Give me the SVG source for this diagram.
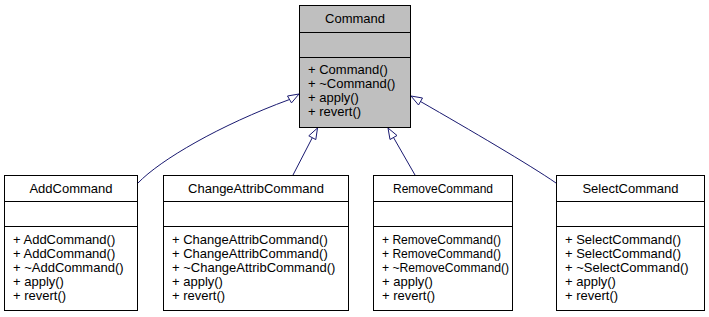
<svg xmlns="http://www.w3.org/2000/svg" width="709" height="317" viewBox="0 0 709 317">
  <style>
    .box { fill: #ffffff; stroke: #000000; stroke-width: 1; }
    .base { fill: #bfbfbf; stroke: #000000; stroke-width: 1; }
    .sep { stroke: #000000; stroke-width: 1; }
    text { font-family: "Liberation Sans", Arial, Helvetica, sans-serif; font-size: 13px; fill: #000000; }
    .title { text-anchor: middle; }
    .edge { fill: none; stroke: #191970; stroke-width: 1; }
    .head { fill: #ffffff; stroke: #191970; stroke-width: 1; }
  </style>
  <rect width="709" height="317" fill="#ffffff"/>

  <!-- inheritance connectors -->
  <g id="edges">
    <path class="edge" d="M138,183 C160,160 220,125 289.5,99.5"/>
    <polygon class="head" points="299,94 291.5,102.9 287.5,96"/>
    <path class="edge" d="M293,175 L312.3,137.7"/>
    <polygon class="head" points="317.5,128 315.8,139.6 308.8,135.8"/>
    <path class="edge" d="M415,175 L393.5,137.5"/>
    <polygon class="head" points="388,128 397,135.5 390,139.5"/>
    <path class="edge" d="M556,183 C530,165 470,130 420.5,101.5"/>
    <polygon class="head" points="411,96 422.5,98 418.5,105"/>
  </g>

  <!-- base class -->
  <g id="Command">
    <rect class="base" x="299.5" y="5.5" width="111" height="122"/>
    <line class="sep" x1="299.5" y1="32.5" x2="410.5" y2="32.5"/>
    <line class="sep" x1="299.5" y1="57.5" x2="410.5" y2="57.5"/>
    <text class="title" x="355" y="23">Command</text>
    <text x="308" y="74">+ Command()</text>
    <text x="308" y="88">+ ~Command()</text>
    <text x="308" y="102">+ apply()</text>
    <text x="308" y="116">+ revert()</text>
  </g>

  <!-- derived classes -->
  <g id="AddCommand">
    <rect class="box" x="4.5" y="175.5" width="133" height="135"/>
    <line class="sep" x1="4.5" y1="201.5" x2="137.5" y2="201.5"/>
    <line class="sep" x1="4.5" y1="226.5" x2="137.5" y2="226.5"/>
    <text class="title" x="71" y="193">AddCommand</text>
    <text x="13" y="244">+ AddCommand()</text>
    <text x="13" y="258">+ AddCommand()</text>
    <text x="13" y="272">+ ~AddCommand()</text>
    <text x="13" y="286">+ apply()</text>
    <text x="13" y="300">+ revert()</text>
  </g>

  <g id="ChangeAttribCommand">
    <rect class="box" x="163.5" y="175.5" width="185" height="135"/>
    <line class="sep" x1="163.5" y1="201.5" x2="348.5" y2="201.5"/>
    <line class="sep" x1="163.5" y1="226.5" x2="348.5" y2="226.5"/>
    <text class="title" x="256" y="193">ChangeAttribCommand</text>
    <text x="172" y="244">+ ChangeAttribCommand()</text>
    <text x="172" y="258">+ ChangeAttribCommand()</text>
    <text x="172" y="272">+ ~ChangeAttribCommand()</text>
    <text x="172" y="286">+ apply()</text>
    <text x="172" y="300">+ revert()</text>
  </g>

  <g id="RemoveCommand">
    <rect class="box" x="373.5" y="175.5" width="139" height="135"/>
    <line class="sep" x1="373.5" y1="201.5" x2="512.5" y2="201.5"/>
    <line class="sep" x1="373.5" y1="226.5" x2="512.5" y2="226.5"/>
    <text class="title" x="443" y="193" textLength="100" lengthAdjust="spacingAndGlyphs">RemoveCommand</text>
    <text x="382" y="244" textLength="119" lengthAdjust="spacingAndGlyphs">+ RemoveCommand()</text>
    <text x="382" y="258" textLength="119" lengthAdjust="spacingAndGlyphs">+ RemoveCommand()</text>
    <text x="382" y="272" textLength="127" lengthAdjust="spacingAndGlyphs">+ ~RemoveCommand()</text>
    <text x="382" y="286">+ apply()</text>
    <text x="382" y="300">+ revert()</text>
  </g>

  <g id="SelectCommand">
    <rect class="box" x="556.5" y="175.5" width="148" height="135"/>
    <line class="sep" x1="556.5" y1="201.5" x2="704.5" y2="201.5"/>
    <line class="sep" x1="556.5" y1="226.5" x2="704.5" y2="226.5"/>
    <text class="title" x="630.5" y="193">SelectCommand</text>
    <text x="565" y="244">+ SelectCommand()</text>
    <text x="565" y="258">+ SelectCommand()</text>
    <text x="565" y="272">+ ~SelectCommand()</text>
    <text x="565" y="286">+ apply()</text>
    <text x="565" y="300">+ revert()</text>
  </g>
</svg>
